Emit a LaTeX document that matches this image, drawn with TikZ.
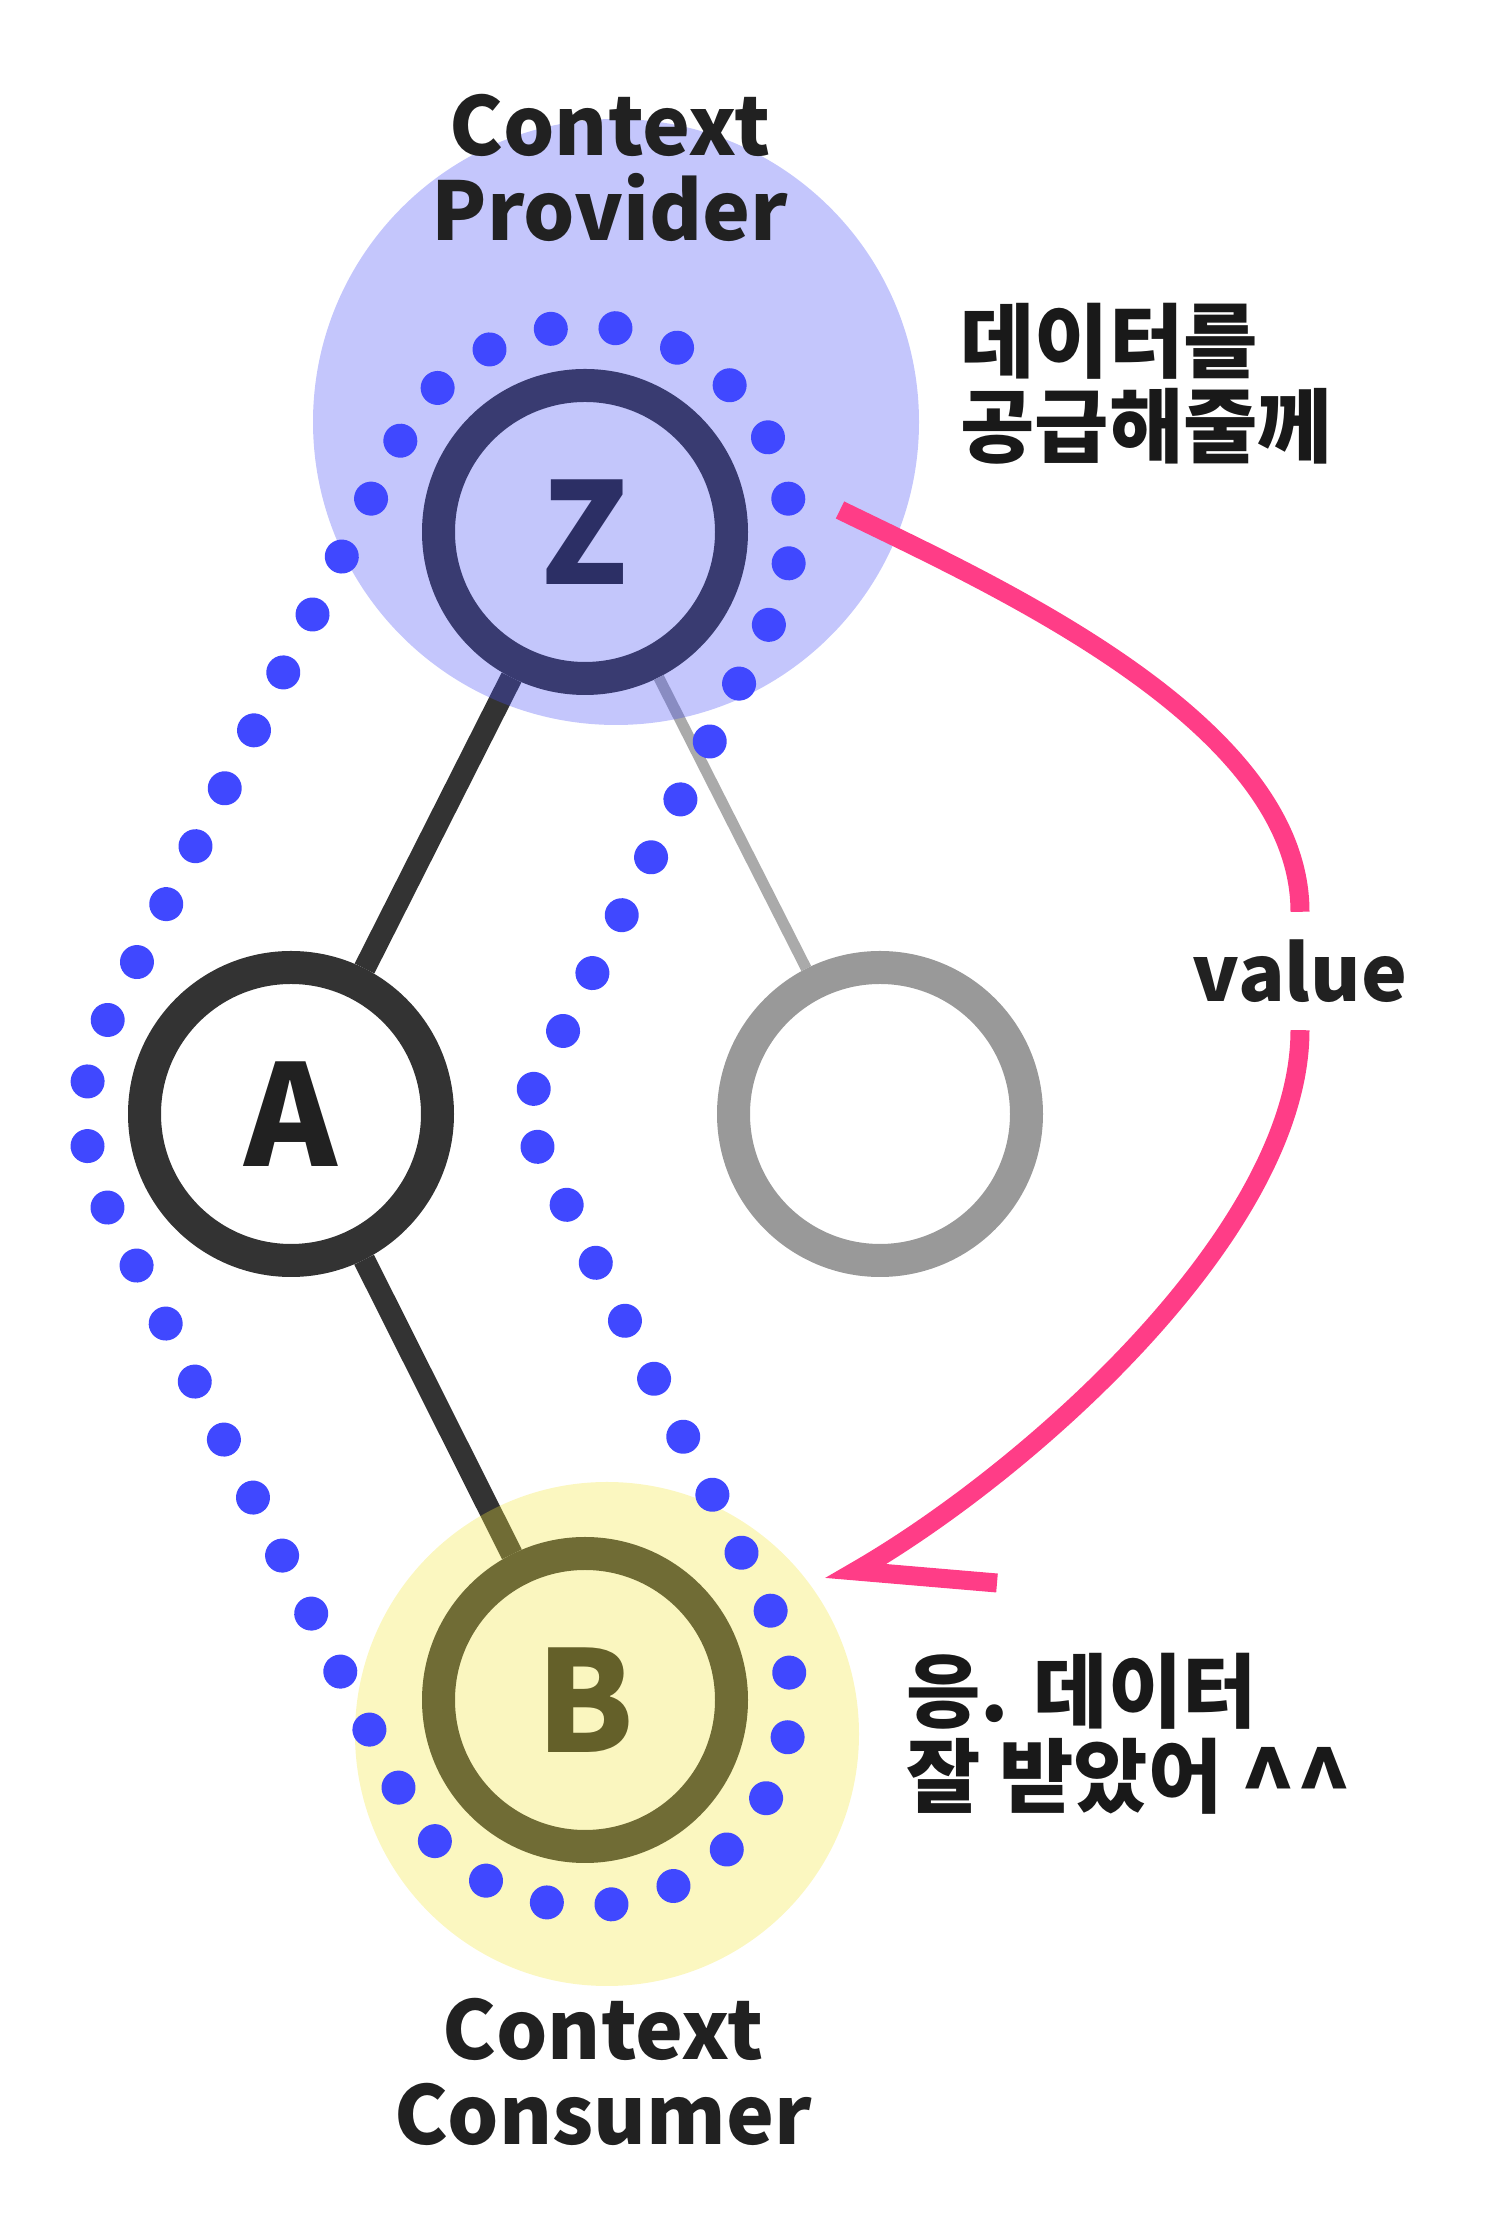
\documentclass[tikz,border=0pt]{standalone}
\usepackage{fontspec}
\setmainfont{Noto Sans CJK KR}
\usetikzlibrary{calc,decorations.markings}

\definecolor{inkdark}{HTML}{333333}
\definecolor{idlegrey}{HTML}{999999}
\definecolor{linkgrey}{HTML}{AAAAAA}
\definecolor{dotblue}{HTML}{4048FF}
\definecolor{feedpink}{HTML}{FF3D87}
\definecolor{providertint}{RGB}{70,78,245}
\definecolor{consumertint}{RGB}{242,229,58}

\begin{document}
\begin{tikzpicture}[
    x=.1mm,y=.1mm,
    member/.style={circle,draw=inkdark,line width=3.3mm,fill=white,inner sep=0pt,
        minimum size=29.3mm,text=black!87,font=\bfseries\fontsize{40}{40}\selectfont},
    idle/.style={member,draw=idlegrey},
    tie/.style={draw=inkdark,line width=2.2mm},
    weak tie/.style={draw=linkgrey,line width=1.1mm},
    halo/.style={fill opacity=.32},
    dotloop/.style={decoration={markings,
        mark=between positions 0 and .99 step .016667 with {\fill[dotblue] (0,0) circle (1.7mm);}},
        decorate},
    feed/.style={draw=feedpink,line width=1.9mm,line join=miter},
    caption/.style={align=center,text=black!87,font=\bfseries\fontsize{23}{24.2}\selectfont},
    speech/.style={anchor=west,align=left,text=black!90,font=\bfseries\fontsize{23}{24.2}\selectfont},
    tag/.style={inner sep=0pt,minimum height=11.7mm,text=black!87,
        font=\bfseries\fontsize{22}{22}\selectfont}
]
    \useasboundingbox (0,0) rectangle (1500,2226);

    % tree
    \node[member] (z) at (585,1694) {Z};
    \node[member] (a) at (291,1112) {A};
    \node[idle] (idle) at (880,1112) {};
    \node[member] (b) at (585,526) {B};
    \draw[tie] (z) -- (a);
    \draw[tie] (a) -- (b);
    \draw[weak tie] (z) -- (idle);

    % provider and consumer halos, laid over the tree
    \fill[providertint,halo] (616,1804) circle (303);
    \fill[consumertint,halo] (607,492) circle (252);

    % dotted path that the context travels along
    \path[dotloop] ($(z)+(-26.8:206)$) arc[start angle=-26.8,end angle=153.2,radius=206]
        -- ($(a)+(153.2:206)$) arc[start angle=153.2,end angle=206.6,radius=206]
        -- ($(b)+(206.6:206)$) arc[start angle=206.6,end angle=386.6,radius=206]
        -- ($(a)+(230,0)$) -- cycle;

    % value handed from Z to B
    \coordinate (give) at (840,1716);
    \coordinate (tip) at (856,655);
    \coordinate (barb) at (997,643);
    \node[tag] (value) at (1300,1255) {value};
    \draw[feed] (give) to[out=-26,in=90,out distance=17mm,in distance=19mm] (value.north);
    \draw[feed] (value.south) to[out=-90,in=30,distance=20mm] (tip) -- (barb);

    \node[caption] (provider) at (610,2058) {Context\\Provider};
    \node[caption] (consumer) at (603,154) {Context\\Consumer};
    \node[speech] (offer) at (948,1842) {데이터를\\공급해줄께};
    \node[speech] (reply) at (894,491) {응. 데이터\\잘 받았어
        {\fontsize{26}{24.2}\selectfont\raisebox{-.12em}{\^{}\^{}}}};
\end{tikzpicture}
\end{document}
